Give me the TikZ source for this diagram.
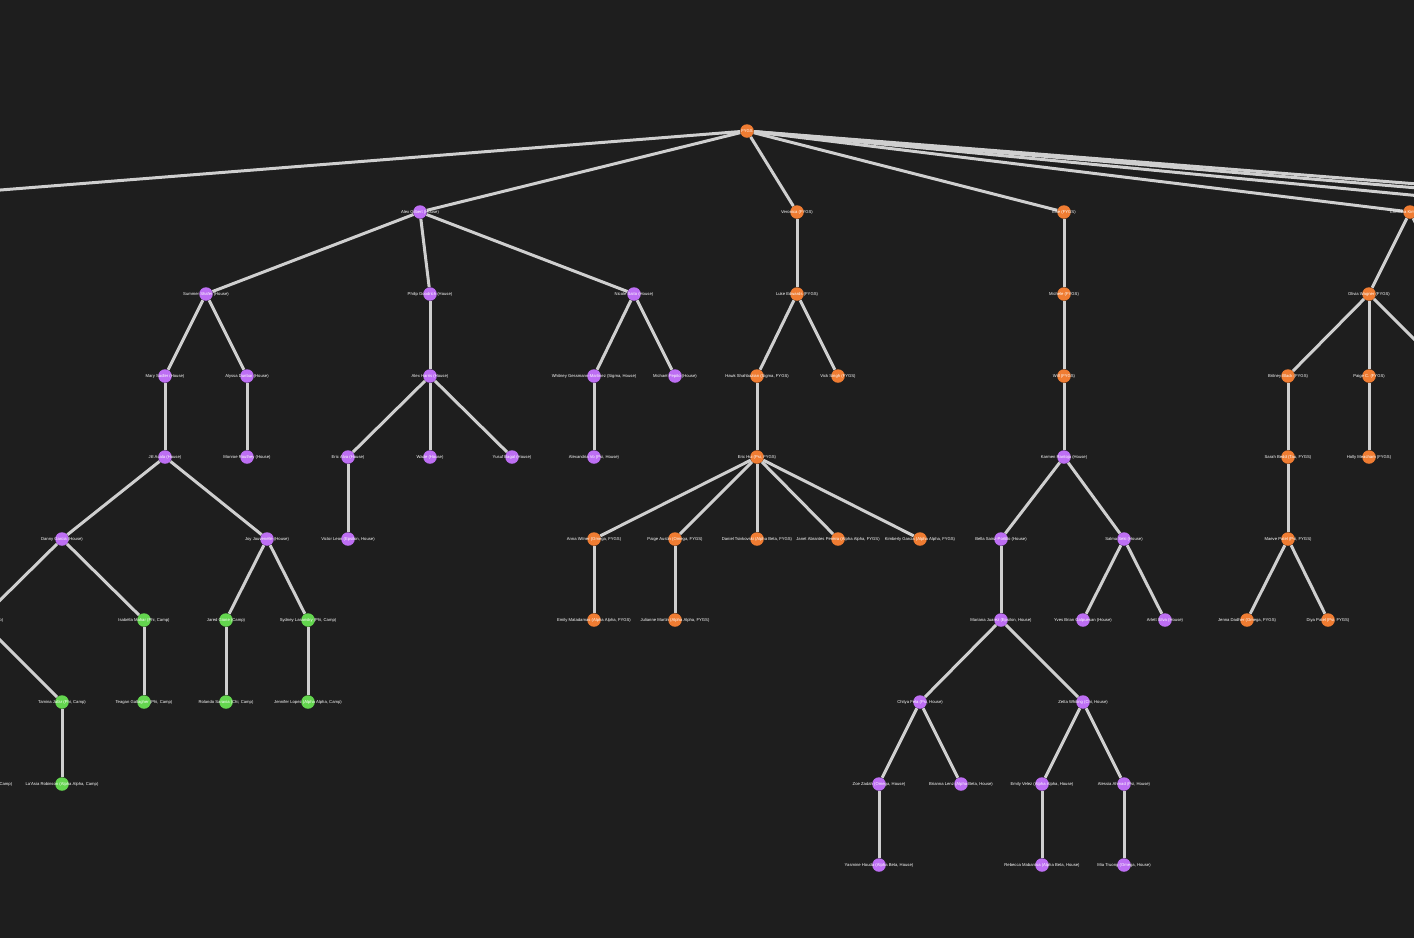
\documentclass[tikz,border=0pt]{standalone}
\usepackage{fontspec}
\setmainfont{Liberation Sans}
\pgfdeclarelayer{bg}
\pgfdeclarelayer{edges}
\pgfsetlayers{bg,edges,main}
\definecolor{bgc}{HTML}{1E1E1E}
\definecolor{fygs}{HTML}{EF7C32}
\definecolor{house}{HTML}{BD6EF3}
\definecolor{camp}{HTML}{63D54E}
\definecolor{edgec}{HTML}{CFCFCF}
\tikzset{
  member/.style={circle, minimum size=13.5pt, inner sep=0pt, draw=none},
  fygsn/.style={member, fill=fygs},
  housen/.style={member, fill=house},
  campn/.style={member, fill=camp},
  tag/.style={text=white, font=\fontsize{4.2}{5}\selectfont, inner sep=0pt},
  link/.style={draw=edgec, line width=3pt},
}
% \person{style}{name}{x}{y}{label}
\newcommand{\person}[5]{\node[#1, label={[tag]center:{#5}}] (#2) at (#3,#4) {};}
\begin{document}
\begin{tikzpicture}[x=1pt, y=-1pt]
\useasboundingbox (0,0) rectangle (1414,938);
\begin{pgfonlayer}{bg}
  \fill[bgc] (0,0) rectangle (1414,938);
\end{pgfonlayer}

% level 0
\person{fygsn}{root}{747}{131}{FYGS}
% level 1
\person{housen}{offleft}{-278}{212}{}
\person{housen}{gilbert}{420}{212}{Alex Gilbert (House)}
\person{fygsn}{veronica}{797}{212}{Veronica (FYGS)}
\person{fygsn}{ellie}{1064}{212}{Ellie (FYGS)}
\person{fygsn}{christina}{1410}{212}{Christina Kim (FYGS)}
\person{fygsn}{offa}{1587}{212}{}
\person{fygsn}{offb}{1700}{212}{}
\person{fygsn}{offc}{1772}{212}{}
% level 2
\person{housen}{summer}{206}{294}{Summer Shafer (House)}
\person{housen}{philip}{430}{294}{Philip Goodrich (House)}
\person{housen}{nicole}{634}{294}{Nicole Saito (House)}
\person{fygsn}{luke}{797}{294}{Luke Edwards (FYGS)}
\person{fygsn}{michele}{1064}{294}{Michele (FYGS)}
\person{fygsn}{olivia}{1369}{294}{Olivia Wagner (FYGS)}
\person{fygsn}{offd}{1451}{294}{}
% level 3
\person{housen}{mary}{165}{376}{Mary Sadler (House)}
\person{housen}{alyssa}{247}{376}{Alyssa Dunbar (House)}
\person{housen}{harris}{430}{376}{Alex Harris (House)}
\person{housen}{whitney}{594}{376}{Whitney Gessmann-Martinez (Sigma, House)}
\person{housen}{michael}{675}{376}{Michael Pepito (House)}
\person{fygsn}{hawk}{757}{376}{Hawk Shahbazian (Sigma, FYGS)}
\person{fygsn}{vick}{838}{376}{Vick Singh (FYGS)}
\person{fygsn}{will}{1064}{376}{Will (FYGS)}
\person{fygsn}{britney}{1288}{376}{Britney Black (FYGS)}
\person{fygsn}{paigec}{1369}{376}{Paige C. (FYGS)}
\person{fygsn}{offe}{1451}{376}{}
% level 4
\person{housen}{jill}{165}{457}{Jill Acala (House)}
\person{housen}{monroe}{247}{457}{Monroe Routhey (House)}
\person{housen}{alva}{348}{457}{Eric Alva (House)}
\person{housen}{wade}{430}{457}{Wade (House)}
\person{housen}{yusuf}{512}{457}{Yusuf Bagal (House)}
\person{housen}{alexandria}{594}{457}{Alexandria Vo (Psi, House)}
\person{fygsn}{erichui}{757}{457}{Eric Hui (Psi, FYGS)}
\person{housen}{karmen}{1064}{457}{Karmen Rantoja (House)}
\person{fygsn}{sarah}{1288}{457}{Sarah Bedd (Tau, FYGS)}
\person{fygsn}{holly}{1369}{457}{Holly Meacham (FYGS)}
% level 5
\person{housen}{danny}{62}{539}{Danny Garcia (House)}
\person{housen}{joy}{267}{539}{Joy Jouvenelle (House)}
\person{housen}{victor}{348}{539}{Victor Leon (Epsilon, House)}
\person{fygsn}{anna}{594}{539}{Anna Wilner (Omega, FYGS)}
\person{fygsn}{paigea}{675}{539}{Paige Austin (Omega, FYGS)}
\person{fygsn}{daniel}{757}{539}{Daniel Tsivkovski (Alpha Beta, FYGS)}
\person{fygsn}{janet}{838}{539}{Janet Abrantes Pereira (Alpha Alpha, FYGS)}
\person{fygsn}{kimberly}{920}{539}{Kimberly Garcia (Alpha Alpha, FYGS)}
\person{housen}{bella}{1001}{539}{Bella Sainz-Portillo (House)}
\person{housen}{salma}{1124}{539}{Salma Seki (House)}
\person{fygsn}{maeve}{1288}{539}{Maeve Patel (Psi, FYGS)}
% level 6
\person{campn}{offg}{-20}{620}{Ava Nguyen (Phi, Camp)}
\person{campn}{isabella}{144}{620}{Isabella Mahar (Phi, Camp)}
\person{campn}{jared}{226}{620}{Jared Gione (Camp)}
\person{campn}{sydney}{308}{620}{Sydney Lasansky (Phi, Camp)}
\person{fygsn}{emilym}{594}{620}{Emily Matadamas (Alpha Alpha, FYGS)}
\person{fygsn}{julianne}{675}{620}{Julianne Martin (Alpha Alpha, FYGS)}
\person{housen}{mariana}{1001}{620}{Mariana Juarez (Epsilon, House)}
\person{housen}{yves}{1083}{620}{Yves Brian Galpuesan (House)}
\person{housen}{arlett}{1165}{620}{Arlett Silva (House)}
\person{fygsn}{jenna}{1247}{620}{Jenna Dadher (Omega, FYGS)}
\person{fygsn}{diya}{1328}{620}{Diya Patel (Psi, FYGS)}
% level 7
\person{campn}{offh}{-20}{702}{}
\person{campn}{tamina}{62}{702}{Tamina Jafar (Phi, Camp)}
\person{campn}{teagan}{144}{702}{Teagan Gallagher (Phi, Camp)}
\person{campn}{rolando}{226}{702}{Rolando Saravia (Chi, Camp)}
\person{campn}{jennifer}{308}{702}{Jennifer Lopez (Alpha Alpha, Camp)}
\person{housen}{chitya}{920}{702}{Chitya Fela (Psi, House)}
\person{housen}{zetta}{1083}{702}{Zetta Whiting (Chi, House)}
% level 8
\person{campn}{offi}{-20}{784}{Sofia Delgado (Alpha Beta, Camp)}
\person{campn}{lasia}{62}{784}{La'Asia Robinson (Alpha Alpha, Camp)}
\person{housen}{zoe}{879}{784}{Zoe Zadah (Omega, House)}
\person{housen}{brianna}{961}{784}{Brianna Lenz (Alpha Beta, House)}
\person{housen}{emilyv}{1042}{784}{Emily Velez (Alpha Alpha, House)}
\person{housen}{alessia}{1124}{784}{Alessia Ahmad (Psi, House)}
% level 9
\person{housen}{yasmine}{879}{865}{Yasmine Houda (Alpha Beta, House)}
\person{housen}{rebecca}{1042}{865}{Rebecca Mabantsa (Alpha Beta, House)}
\person{housen}{mia}{1124}{865}{Mia Truong (Omega, House)}

% family links
\begin{pgfonlayer}{edges}
\foreach \p/\c in {
  root/offleft, root/gilbert, root/veronica, root/ellie, root/christina,
  root/offa, root/offb, root/offc,
  gilbert/summer, gilbert/philip, gilbert/nicole,
  summer/mary, summer/alyssa, mary/jill, alyssa/monroe,
  jill/danny, jill/joy,
  danny/offg, danny/isabella, offg/offh, offg/tamina, offh/offi,
  tamina/lasia, isabella/teagan,
  joy/jared, joy/sydney, jared/rolando, sydney/jennifer,
  philip/harris, harris/alva, harris/wade, harris/yusuf, alva/victor,
  nicole/whitney, nicole/michael, whitney/alexandria,
  veronica/luke, luke/hawk, luke/vick, hawk/erichui,
  erichui/anna, erichui/paigea, erichui/daniel, erichui/janet, erichui/kimberly,
  anna/emilym, paigea/julianne,
  ellie/michele, michele/will, will/karmen,
  karmen/bella, karmen/salma, bella/mariana,
  mariana/chitya, mariana/zetta,
  chitya/zoe, chitya/brianna, zoe/yasmine,
  zetta/emilyv, zetta/alessia, emilyv/rebecca, alessia/mia,
  salma/yves, salma/arlett,
  christina/olivia, christina/offd,
  olivia/britney, olivia/paigec, olivia/offe,
  britney/sarah, sarah/maeve, maeve/jenna, maeve/diya, paigec/holly}
  \draw[link] (\p) -- (\c);
\end{pgfonlayer}
\end{tikzpicture}
\end{document}
